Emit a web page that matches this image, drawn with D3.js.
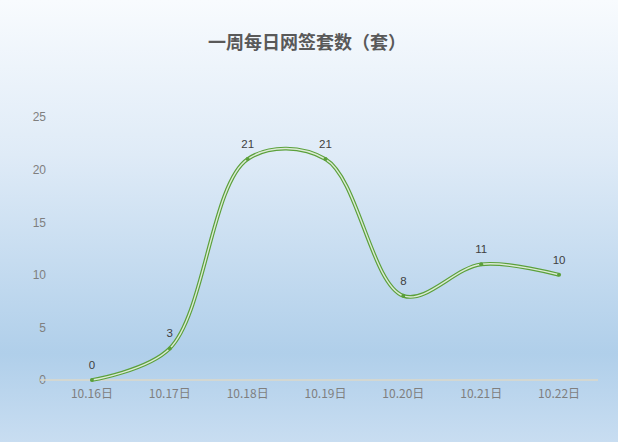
<!DOCTYPE html>
<html>
<head>
<meta charset="utf-8">
<script src="https://cdn.jsdelivr.net/npm/d3@7"></script>
<style>
  body { margin: 0; }
  svg { display: block; }
</style>
</head>
<body>
<svg></svg>
<script>
// chart data
let days = ['10.16日', '10.17日', '10.18日', '10.19日', '10.20日', '10.21日', '10.22日'];
let counts = [0, 3, 21, 21, 8, 11, 10];
let yTicks = [0, 5, 10, 15, 20, 25];
let title = '一周每日网签套数（套）';

let width = 618;
let height = 442;
let margin = { top: 117, right: 20, bottom: 62, left: 53 };

let svg = d3.select('svg')
    .attr('width', width)
    .attr('height', height);

// background gradient
let grad = svg.append('defs').append('linearGradient')
    .attr('id', 'bg')
    .attr('x1', 0).attr('y1', 0).attr('x2', 0).attr('y2', 1);
grad.append('stop').attr('offset', '0%').attr('stop-color', '#f8fbfe');
grad.append('stop').attr('offset', '35%').attr('stop-color', '#dfebf7');
grad.append('stop').attr('offset', '80%').attr('stop-color', '#b0cfea');
grad.append('stop').attr('offset', '100%').attr('stop-color', '#c8ddf1');

svg.append('rect')
    .attr('width', width)
    .attr('height', height)
    .attr('fill', 'url(#bg)');

svg.append('text')
    .attr('x', 307)
    .attr('y', 49)
    .attr('text-anchor', 'middle')
    .attr('font-family', '"Noto Sans CJK SC", sans-serif')
    .attr('font-weight', 'bold')
    .attr('font-size', 18)
    .attr('fill', '#595959')
    .text(title);

let g = svg.append('g');

let xScale = d3.scaleBand()
    .domain(days)
    .range([margin.left, width - margin.right]);

let yScale = d3.scaleLinear()
    .domain([0, 25])
    .range([height - margin.bottom, margin.top]);

let xPos = d => xScale(d) + xScale.bandwidth() / 2;

// y axis labels
let yAxis = d3.axisLeft(yScale).tickValues(yTicks).tickSize(0).tickPadding(0);
let yG = g.append('g')
    .attr('transform', `translate(46, 0)`)
    .call(yAxis);
yG.select('.domain').remove();
yG.selectAll('text')
    .attr('font-family', '"Liberation Sans", Arial, sans-serif')
    .attr('font-size', 12)
    .attr('fill', '#7f7f7f');

// x axis
let xAxis = d3.axisBottom(xScale).tickSize(0).tickPadding(9);
let xG = g.append('g')
    .attr('transform', `translate(0, ${yScale(0)})`)
    .call(xAxis);
xG.select('.domain')
    .attr('d', `M40,0H${width - margin.right}`)
    .attr('stroke', '#ddd8c8')
    .attr('stroke-width', 1.5);
xG.selectAll('text')
    .attr('font-family', '"Noto Sans CJK SC", sans-serif')
    .attr('font-size', 12)
    .attr('fill', '#7f7f7f');

// smooth line (double stroke look)
let line = d3.line()
    .x((d, i) => xPos(days[i]))
    .y(d => yScale(d))
    .curve(d3.curveCatmullRom.alpha(0.5));

g.append('path')
    .datum(counts)
    .attr('d', line)
    .attr('fill', 'none')
    .attr('stroke', '#5ba03b')
    .attr('stroke-width', 3.8);

g.append('path')
    .datum(counts)
    .attr('d', line)
    .attr('fill', 'none')
    .attr('stroke', '#dcebd6')
    .attr('stroke-width', 1.4);

// markers
g.selectAll('.dot')
    .data(counts)
    .enter()
    .append('circle')
    .attr('class', 'dot')
    .attr('cx', (d, i) => xPos(days[i]))
    .attr('cy', d => yScale(d))
    .attr('r', 2)
    .attr('fill', '#5ba03b');

// data labels
g.selectAll('.lbl')
    .data(counts)
    .enter()
    .append('text')
    .attr('class', 'lbl')
    .attr('x', (d, i) => xPos(days[i]))
    .attr('y', d => yScale(d) - 11)
    .attr('text-anchor', 'middle')
    .attr('font-family', '"Liberation Sans", Arial, sans-serif')
    .attr('font-size', 11.5)
    .attr('fill', '#404040')
    .text(d => d);
</script>
</body>
</html>
